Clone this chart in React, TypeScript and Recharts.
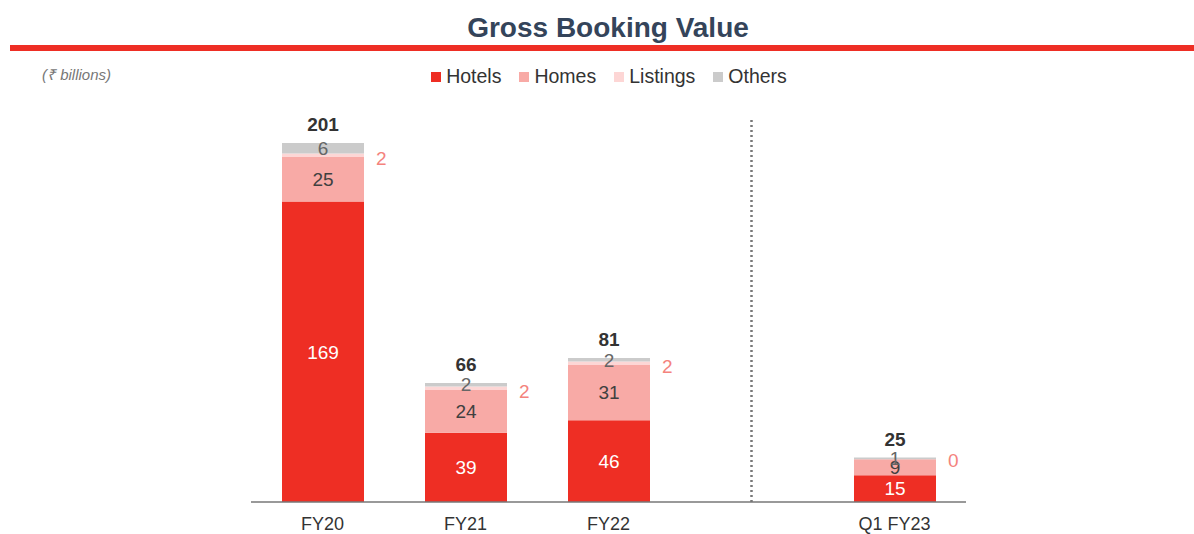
import { Bar, BarChart, LabelList, Legend, ReferenceLine, XAxis, YAxis } from 'recharts';

const categories = ['FY20', 'FY21', 'FY22', 'gap', 'Q1 FY23'];
const hotels = [169, 39, 46, null, 15];
const homes = [25, 24, 31, null, 9];
const listings = [2, 2, 2, null, 0];
const others = [6, 2, 2, null, 1];
const totals = [201, 66, 81, null, 25];

const seriesColors = {
  hotels: '#ee2e24',
  homes: '#f8aaa6',
  listings: '#fdd6d5',
  others: '#cbcbcb',
};

const data = categories.map((name, i) => ({
  name,
  hotels: hotels[i],
  homes: homes[i],
  listings: listings[i],
  others: others[i],
  total: totals[i],
}));

const font = 'Arial, "Liberation Sans", sans-serif';

const legendItems = [
  { label: 'Hotels', color: seriesColors.hotels },
  { label: 'Homes', color: seriesColors.homes },
  { label: 'Listings', color: seriesColors.listings },
  { label: 'Others', color: seriesColors.others },
];

const LegendContent = () => (
  <div style={{ display: 'flex', justifyContent: 'center', paddingLeft: 42, fontFamily: font, fontSize: 19.5, color: '#333' }}>
    {legendItems.map((item) => (
      <div key={item.label} style={{ display: 'flex', alignItems: 'center', marginRight: 18 }}>
        <span style={{ width: 10, height: 10, background: item.color, display: 'inline-block', marginRight: 5 }} />
        <span>{item.label}</span>
      </div>
    ))}
  </div>
);

// listings segments are thin (or zero), so their value sits to the right of the bar
const ListingLabel = (props: any) => {
  const { x, y, width, value } = props;
  if (value === null || value === undefined) return null;
  return (
    <text
      x={Number(x) + Number(width) + 12}
      y={Number(y) + 1}
      dominantBaseline="central"
      fill="#f4837d"
      fontSize={19}
      fontFamily={font}
    >
      {value}
    </text>
  );
};

const App = () => {
  return (
    <div style={{ position: 'absolute', left: 0, top: 0, width: 1194, height: 534, fontFamily: font }}>
      <div
        style={{
          position: 'absolute',
          left: 608,
          top: 11,
          transform: 'translateX(-50%)',
          fontSize: 28,
          lineHeight: '34px',
          fontWeight: 'bold',
          color: '#34445a',
          whiteSpace: 'nowrap',
        }}
      >
        Gross Booking Value
      </div>
      <div style={{ position: 'absolute', left: 10, top: 45, width: 1184, height: 6, background: '#ee2e24' }} />
      <div style={{ position: 'absolute', left: 42, top: 64, fontSize: 15, fontStyle: 'italic', color: '#777' }}>
        (₹ billions)
      </div>
      <BarChart
        width={1194}
        height={534}
        data={data}
        margin={{ top: 118, right: 228, bottom: 0, left: 251 }}
        barSize={82}
        style={{ position: 'absolute', left: 0, top: 0 }}
      >
        <XAxis
          dataKey="name"
          height={32}
          tickLine={false}
          tickSize={0}
          tickMargin={15}
          stroke="#777"
          strokeWidth={1.5}
          tick={{ fill: '#333', fontSize: 18, fontFamily: font }}
          tickFormatter={(v) => (v === 'gap' ? '' : v)}
        />
        <YAxis hide domain={[0, 216]} />
        <Legend
          layout="horizontal"
          verticalAlign="middle"
          align="center"
          wrapperStyle={{ top: 65, left: 0, width: 1194 }}
          content={<LegendContent />}
        />
        <ReferenceLine x="gap" stroke="#777" strokeWidth={2.5} strokeDasharray="2 3" />
        <Bar dataKey="hotels" name="Hotels" stackId="a" fill={seriesColors.hotels} isAnimationActive={false}>
          <LabelList dataKey="hotels" position="center" fill="#fff" fontSize={19} fontFamily={font} />
        </Bar>
        <Bar dataKey="homes" name="Homes" stackId="a" fill={seriesColors.homes} isAnimationActive={false}>
          <LabelList dataKey="homes" position="center" fill="#404040" fontSize={19} fontFamily={font} />
          <LabelList dataKey="listings" content={<ListingLabel />} />
        </Bar>
        <Bar dataKey="listings" name="Listings" stackId="a" fill={seriesColors.listings} isAnimationActive={false} />
        <Bar dataKey="others" name="Others" stackId="a" fill={seriesColors.others} isAnimationActive={false}>
          <LabelList dataKey="others" position="center" fill="#666" fontSize={19} fontFamily={font} />
          <LabelList
            dataKey="total"
            position="top"
            offset={12}
            fill="#333"
            fontSize={19}
            fontWeight="bold"
            fontFamily={font}
          />
        </Bar>
      </BarChart>
    </div>
  );
};

export default App;
